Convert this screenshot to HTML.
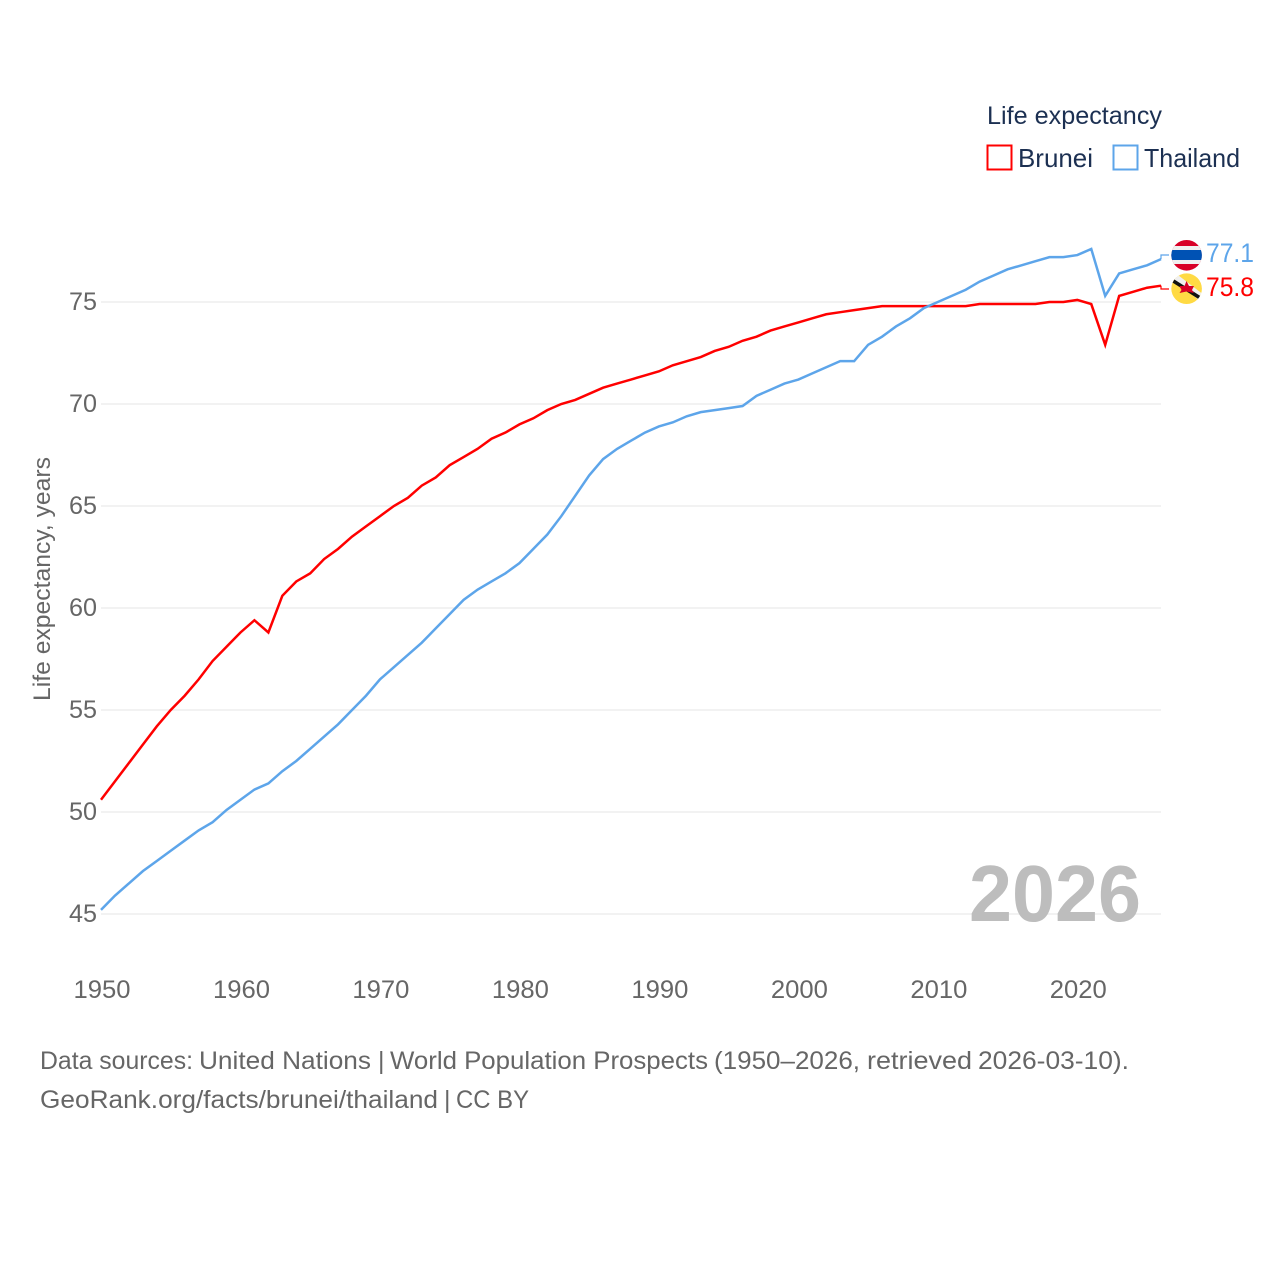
<!DOCTYPE html>
<html lang="en">
<head>
<meta charset="utf-8">
<title>Life expectancy: Brunei and Thailand</title>
<style>
html,body{margin:0;padding:0;background:#fff;}
svg{display:block;font-family:"Liberation Sans",sans-serif;}
</style>
</head>
<body>
<svg id="chart" width="1280" height="1280" viewBox="0 0 1280 1280" xmlns="http://www.w3.org/2000/svg">
  <defs>
    <clipPath id="flag-clip-th"><circle cx="1186.6" cy="255.3" r="15.3"/></clipPath>
    <clipPath id="flag-clip-bn"><circle cx="1186.6" cy="288.7" r="15.3"/></clipPath>
  </defs>
  <g id="grid"></g>
  <g id="yticks"></g>
  <g id="xticks"></g>
  <text transform="translate(50,701) rotate(-90)" font-size="24" fill="#666" textLength="244" lengthAdjust="spacingAndGlyphs">Life expectancy, years</text>
  <text x="969" y="921" font-size="80" font-weight="bold" fill="#bdbdbd" textLength="172" lengthAdjust="spacingAndGlyphs">2026</text>
  <g id="series"></g>

  <text x="987" y="124" font-size="25" fill="#1c3052" textLength="175" lengthAdjust="spacingAndGlyphs">Life expectancy</text>
  <g>
    <rect x="987.5" y="145.5" width="24" height="24" fill="#fff" stroke="#ff0000" stroke-width="2"/>
    <text x="1018" y="167" font-size="26" fill="#1c3052" textLength="75" lengthAdjust="spacingAndGlyphs">Brunei</text>
  </g>
  <g>
    <rect x="1113.5" y="145.5" width="24" height="24" fill="#fff" stroke="#5da5ea" stroke-width="2"/>
    <text x="1144" y="167" font-size="26" fill="#1c3052" textLength="96" lengthAdjust="spacingAndGlyphs">Thailand</text>
  </g>

  <g clip-path="url(#flag-clip-th)">
    <rect x="1171" y="240" width="31" height="31" fill="#d80027"/>
    <rect x="1171" y="246" width="31" height="18" fill="#f0f0f0"/>
    <rect x="1171" y="250" width="31" height="10" fill="#0052b4"/>
  </g>
  <g clip-path="url(#flag-clip-bn)">
    <rect x="1171" y="273" width="31" height="31" fill="#ffda44"/>
    <polygon points="1170,277 1174,272 1204,295 1200,301" fill="#f0f0f0"/>
    <polygon points="1170,281 1172,278 1202,297 1200,300" fill="#111"/>
    <path d="M1186.500 281 l2.500 5 l5 0 l-2 4 l2 3 l-7.500 -1.500 l-7 1.500 l2 -3 l-2 -4 l5 0z" fill="#d80027"/>
  </g>

  <text id="value-th" x="1206" y="262" font-size="27" fill="#5da5ea" textLength="48" lengthAdjust="spacingAndGlyphs"></text>
  <text id="value-bn" x="1206" y="296" font-size="27" fill="#ff0000" textLength="48" lengthAdjust="spacingAndGlyphs"></text>

  <g font-size="25" fill="#666">
    <text x="40" y="1069" textLength="153" lengthAdjust="spacingAndGlyphs">Data sources:</text>
    <text x="199" y="1069" textLength="172" lengthAdjust="spacingAndGlyphs">United Nations</text>
    <text x="378" y="1069">|</text>
    <text x="390" y="1069" textLength="318" lengthAdjust="spacingAndGlyphs">World Population Prospects</text>
    <text x="714" y="1069" textLength="146" lengthAdjust="spacingAndGlyphs">(1950–2026,</text>
    <text x="867" y="1069" textLength="105" lengthAdjust="spacingAndGlyphs">retrieved</text>
    <text x="978" y="1069" textLength="151" lengthAdjust="spacingAndGlyphs">2026-03-10).</text>
  </g>
  <g font-size="25" fill="#666">
    <text x="40" y="1108" textLength="398" lengthAdjust="spacingAndGlyphs">GeoRank.org/facts/brunei/thailand</text>
    <text x="444" y="1108">|</text>
    <text x="456" y="1108" textLength="73" lengthAdjust="spacingAndGlyphs">CC BY</text>
  </g>
</svg>
<script>
const years = [1950,1951,1952,1953,1954,1955,1956,1957,1958,1959,1960,1961,1962,1963,1964,1965,1966,1967,1968,1969,1970,1971,1972,1973,1974,1975,1976,1977,1978,1979,1980,1981,1982,1983,1984,1985,1986,1987,1988,1989,1990,1991,1992,1993,1994,1995,1996,1997,1998,1999,2000,2001,2002,2003,2004,2005,2006,2007,2008,2009,2010,2011,2012,2013,2014,2015,2016,2017,2018,2019,2020,2021,2022,2023,2024,2025,2026];
const bruneiValues = [50.6,51.5,52.4,53.3,54.2,55.0,55.7,56.5,57.4,58.1,58.8,59.4,58.8,60.6,61.3,61.7,62.4,62.9,63.5,64.0,64.5,65.0,65.4,66.0,66.4,67.0,67.4,67.8,68.3,68.6,69.0,69.3,69.7,70.0,70.2,70.5,70.8,71.0,71.2,71.4,71.6,71.9,72.1,72.3,72.6,72.8,73.1,73.3,73.6,73.8,74.0,74.2,74.4,74.5,74.6,74.7,74.8,74.8,74.8,74.8,74.8,74.8,74.8,74.9,74.9,74.9,74.9,74.9,75.0,75.0,75.1,74.9,72.9,75.3,75.5,75.7,75.8];
const thailandValues = [45.2,45.9,46.5,47.1,47.6,48.1,48.6,49.1,49.5,50.1,50.6,51.1,51.4,52.0,52.5,53.1,53.7,54.3,55.0,55.7,56.5,57.1,57.7,58.3,59.0,59.7,60.4,60.9,61.3,61.7,62.2,62.9,63.6,64.5,65.5,66.5,67.3,67.8,68.2,68.6,68.9,69.1,69.4,69.6,69.7,69.8,69.9,70.4,70.7,71.0,71.2,71.5,71.8,72.1,72.1,72.9,73.3,73.8,74.2,74.7,75.0,75.3,75.6,76.0,76.3,76.6,76.8,77.0,77.2,77.2,77.3,77.6,75.3,76.4,76.6,76.8,77.1];
const yTickValues = [45,50,55,60,65,70,75];
const xTickValues = [1950,1960,1970,1980,1990,2000,2010,2020];

const NS = 'http://www.w3.org/2000/svg';
const xScale = year => 101 + (year - 1950) * (1161 - 101) / 76;
const yScale = value => 914 - (value - 45) * 20.4;

function make(tag, parent, attrs) {
  const el = document.createElementNS(NS, tag);
  for (const key in attrs) el.setAttribute(key, attrs[key]);
  parent.appendChild(el);
  return el;
}

const grid = document.getElementById('grid');
const yticks = document.getElementById('yticks');
const xticks = document.getElementById('xticks');
const series = document.getElementById('series');

yTickValues.forEach(v => {
  const line = make('line', grid, {x1: xScale(1950), x2: xScale(2026), y1: yScale(v), y2: yScale(v), stroke: '#eeeeee', 'stroke-width': 1.5});
  
  
  const label = make('text', yticks, {x: 97, y: yScale(v) + 8, 'text-anchor': 'end', 'font-size': 25, fill: '#666', textLength: 28, lengthAdjust: 'spacingAndGlyphs'});
  
  
  label.textContent = v;
});

xTickValues.forEach(v => {
  const label = make('text', xticks, {x: xScale(v) + 1, y: 998, 'text-anchor': 'middle', 'font-size': 25, fill: '#666', textLength: 57, lengthAdjust: 'spacingAndGlyphs'});
  
  
  label.textContent = v;
});

function drawSeries(values, color, labelY) {
  const points = values.map((v, i) => xScale(years[i]).toFixed(2) + ',' + yScale(v).toFixed(2));
  const line = make('polyline', series, {points: points.join(' '), fill: 'none', stroke: color, 'stroke-width': 2.5, 'stroke-linejoin': 'miter'});
  
  
  const lastX = xScale(years[years.length - 1]);
  const lastY = yScale(values[values.length - 1]);
  const connector = make('polyline', series, {points: lastX + ',' + lastY + ' ' + lastX + ',' + labelY + ' ' + (lastX + 8) + ',' + labelY, fill: 'none', stroke: color, 'stroke-width': 1.2});
  
  
}

drawSeries(bruneiValues, '#ff0000', 289);
drawSeries(thailandValues, '#5da5ea', 255);

document.getElementById('value-th').textContent = thailandValues[thailandValues.length - 1].toFixed(1);
document.getElementById('value-bn').textContent = bruneiValues[bruneiValues.length - 1].toFixed(1);
</script>
</body>
</html>
